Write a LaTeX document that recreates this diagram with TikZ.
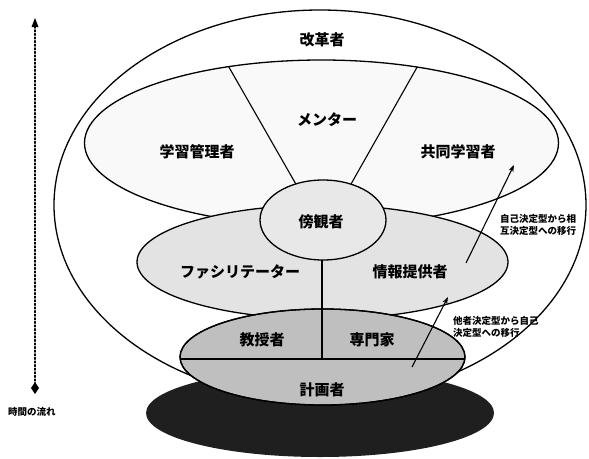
\documentclass[tikz,border=0pt]{standalone}
\usepackage{fontspec}
\newfontfamily\jp{Noto Sans CJK JP}
\usetikzlibrary{arrows.meta,calc}
\begin{document}
\begin{tikzpicture}[x=1pt,y=-1pt,
  ring/.style={draw=black, line width=1.3pt},
  divider/.style={draw=black, line width=1.1pt},
  big/.style={font=\jp\bfseries\fontsize{15}{15}\selectfont, inner sep=0pt},
  note/.style={font=\jp\bfseries\fontsize{9.5}{12}\selectfont, inner sep=0pt, align=left, anchor=west},
  flow/.style={draw=black, line width=1.1pt, -{Stealth[length=7pt,width=5pt]}}]
\useasboundingbox (0,0) rectangle (589,458);
\fill[white] (0,0) rectangle (589,458);

% outer ellipse (改革者)
\draw[ring, fill=white] (320,205) ellipse [x radius=266, y radius=195];
% inner upper ellipse
\draw[ring, fill=gray!5] (321.5,143) ellipse [x radius=237, y radius=83];
\begin{scope}
  \clip (321.5,143) ellipse [x radius=237, y radius=83];
  \draw[divider] (226,62) -- (305,200);
  \draw[divider] (420,62) -- (342,200);
\end{scope}
% middle ellipse
\draw[ring, fill=gray!22] (322.5,262) ellipse [x radius=185.5, y radius=57];
% small ellipse
\draw[ring, fill=gray!18] (323,220) ellipse [x radius=63, y radius=40];
% dark base
\fill[black!88] (320,413) ellipse [x radius=174, y radius=44];
% lower ellipse
\draw[ring, fill=gray!50] (322.5,357) ellipse [x radius=142.5, y radius=48];
\begin{scope}
  \clip (322.5,357) ellipse [x radius=142.5, y radius=48];
  \draw[divider] (170,359) -- (475,359);
\end{scope}
\draw[divider] (322,260) -- (322,359);
\draw[ring] (322.5,357) ellipse [x radius=142.5, y radius=48];

% labels
\node[big] (kaikaku) at (322,40) {改革者};
\node[big] (mentor) at (327,120) {メンター};
\node[big] (kanri) at (197,152) {学習管理者};
\node[big] (kyodo) at (458,152) {共同学習者};
\node[big] (bokan) at (321,222) {傍観者};
\node[big] (facil) at (240,272) {ファシリテーター};
\node[big] (joho) at (410,272) {情報提供者};
\node[big] (kyoju) at (262,340) {教授者};
\node[big] (senmon) at (372,340) {専門家};
\node[big] (keikaku) at (322,390) {計画者};

% transition arrows
\coordinate (a1s) at (466,263);
\coordinate (a1e) at (514,165);
\coordinate (a2s) at (412,367);
\coordinate (a2e) at (448,297);
\draw[flow] (a1s) -- (a1e);
\draw[flow] (a2s) -- (a2e);
\node[note] (n1) at (500,225) {自己決定型から相\\互決定型への移行};
\node[note] (n2) at (453,327) {他者決定型から自己\\決定型への移行};

% time axis
\coordinate (tTop) at (35,18);
\coordinate (tBot) at (35,388);
\draw[line width=1.6pt, dotted, line cap=round] (tBot) -- ($(tTop)+(0,6)$);
\fill (tTop) -- (31.5,27) -- (38.5,27) -- cycle;
\fill (35,382) -- (39,388) -- (35,394) -- (31,388) -- cycle;
\node[font=\jp\bfseries\fontsize{9.5}{10}\selectfont, inner sep=0pt] (time) at (32,412) {時間の流れ};
\end{tikzpicture}
\end{document}
